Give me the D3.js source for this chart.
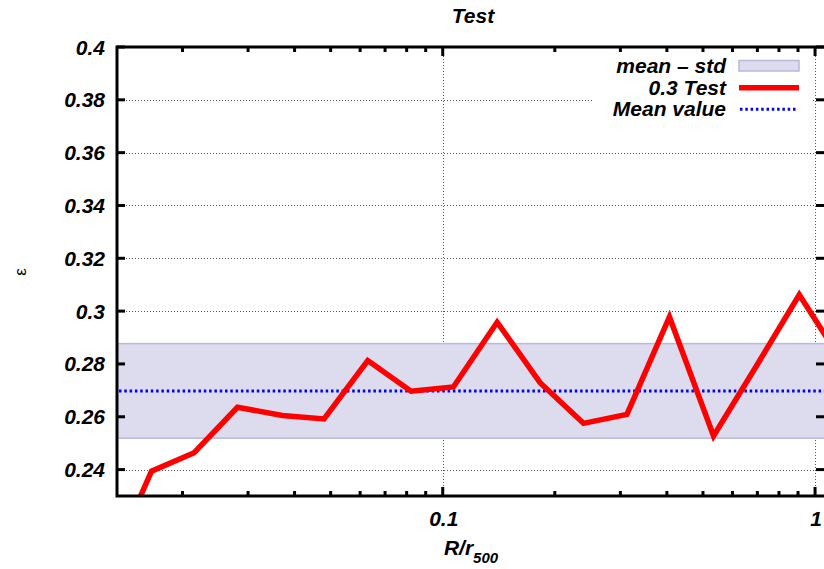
<!DOCTYPE html>
<html>
<head>
<meta charset="utf-8">
<script src="https://cdn.jsdelivr.net/npm/d3@7"></script>
<style>
  html, body { margin: 0; padding: 0; background: #fff; }
  svg { display: block; }
  text { font-family: "Liberation Sans", Arial, Helvetica, sans-serif; }
  .lbl { font-weight: bold; font-style: italic; font-size: 21px; fill: #000; }
</style>
</head>
<body>
<svg id="chart" width="824" height="569"></svg>
<script>
// Profile samples: radius in units of r500 and the measured epsilon
const radius = [0.01264, 0.01652, 0.0215, 0.0281, 0.0371, 0.048, 0.0629, 0.0822, 0.1068,
                0.140, 0.1826, 0.2388, 0.3124, 0.4064, 0.5337, 0.697, 0.907, 1.18];
const epsilon = [0.2025, 0.2394, 0.2464, 0.2636, 0.2605, 0.2592, 0.2813, 0.2697, 0.2713,
                 0.2958, 0.2729, 0.2575, 0.2609, 0.2978, 0.2527, 0.2794, 0.3062, 0.281];
const meanValue = 0.2698;
const stdValue = 0.0179;

const yTicks = [0.24, 0.26, 0.28, 0.3, 0.32, 0.34, 0.36, 0.38, 0.4];
const xMajorTicks = [0.1, 1];
const xMinorTicks = [0.02, 0.03, 0.04, 0.05, 0.06, 0.07, 0.08, 0.09,
                     0.2, 0.3, 0.4, 0.5, 0.6, 0.7, 0.8, 0.9];
const legendLabels = ["mean – std", "0.3 Test", "Mean value"];

const svg = d3.select("#chart");
const L = 117, R = 826, T = 47, B = 496;

const x = d3.scaleLog().domain([0.01334, 1.070]).range([L, R]);
const y = d3.scaleLinear().domain([0.23, 0.4]).range([B, T]);

// clip region for the data
svg.append("defs").append("clipPath").attr("id", "plotClip")
  .append("rect").attr("x", L).attr("y", T).attr("width", R - L).attr("height", B - T);

// grid
const grid = svg.append("g").attr("stroke", "#555").attr("stroke-width", 1)
  .attr("stroke-dasharray", "1,2").attr("fill", "none");
grid.selectAll("line.gy").data(yTicks.filter(v => v < 0.4)).join("line")
  .attr("x1", L).attr("x2", R)
  .attr("y1", d => Math.round(y(d)) + 0.5).attr("y2", d => Math.round(y(d)) + 0.5);
grid.selectAll("line.gx").data(xMajorTicks).join("line")
  .attr("y1", T).attr("y2", B)
  .attr("x1", d => Math.round(x(d)) + 0.5).attr("x2", d => Math.round(x(d)) + 0.5);

// legend background (opaque key box)
svg.append("rect").attr("x", 594).attr("y", T + 2).attr("width", 218).attr("height", 72)
  .attr("fill", "#fff");

const plot = svg.append("g").attr("clip-path", "url(#plotClip)");

// mean ± std band
plot.append("rect")
  .attr("x", L).attr("width", R - L)
  .attr("y", y(meanValue + stdValue))
  .attr("height", y(meanValue - stdValue) - y(meanValue + stdValue))
  .attr("fill", "#dddcee").attr("stroke", "#b9b8dd").attr("stroke-width", 1.5);

// mean value line
plot.append("line")
  .attr("x1", L + 2).attr("x2", R)
  .attr("y1", y(meanValue)).attr("y2", y(meanValue))
  .attr("stroke", "#0000ff").attr("stroke-width", 3).attr("stroke-dasharray", "2.5,2.8");

// epsilon profile
plot.append("path")
  .datum(radius.map((r, i) => [r, epsilon[i]]))
  .attr("d", d3.line().x(d => x(d[0])).y(d => y(d[1])))
  .attr("fill", "none").attr("stroke", "#ff0000").attr("stroke-width", 5.5)
  .attr("stroke-linejoin", "miter");

// tick marks
const ticks = svg.append("g").attr("stroke", "#000");
ticks.selectAll("line.yl").data(yTicks).join("line")
  .attr("x1", L).attr("x2", L + 8).attr("y1", d => y(d)).attr("y2", d => y(d)).attr("stroke-width", 3);
ticks.selectAll("line.yr").data(yTicks).join("line")
  .attr("x1", R - 10).attr("x2", R).attr("y1", d => y(d)).attr("y2", d => y(d)).attr("stroke-width", 3);
[[B, -1], [T, 1]].forEach(([base, dir]) => {
  ticks.append("g").selectAll("line").data(xMajorTicks).join("line")
    .attr("x1", d => x(d)).attr("x2", d => x(d))
    .attr("y1", base).attr("y2", base + dir * 9).attr("stroke-width", 3);
  ticks.append("g").selectAll("line").data(xMinorTicks).join("line")
    .attr("x1", d => x(d)).attr("x2", d => x(d))
    .attr("y1", base).attr("y2", base + dir * 5).attr("stroke-width", 3);
});

// frame
svg.append("rect").attr("x", L).attr("y", T).attr("width", R - L).attr("height", B - T)
  .attr("fill", "none").attr("stroke", "#000").attr("stroke-width", 3);

// tick labels
svg.append("g").selectAll("text").data(yTicks).join("text")
  .attr("class", "lbl").attr("text-anchor", "end")
  .attr("x", 105).attr("y", d => y(d) + 7.5)
  .text(d => d3.format("~g")(d));
svg.append("g").selectAll("text").data(xMajorTicks).join("text")
  .attr("class", "lbl").attr("text-anchor", "middle")
  .attr("x", d => x(d) + 1).attr("y", 526)
  .text(d => d3.format("~g")(d));

// title and axis labels
svg.append("text").attr("class", "lbl").attr("text-anchor", "middle")
  .attr("x", 473).attr("y", 23).text("Test");

const xl = svg.append("text").attr("class", "lbl").attr("text-anchor", "middle")
  .attr("x", 471).attr("y", 555);
xl.append("tspan").text("R/r");
xl.append("tspan").attr("dy", 8).style("font-size", "15px").text("500");

svg.append("text").attr("transform", "translate(26,272) rotate(-90)")
  .attr("text-anchor", "middle").style("font-size", "17px").text("ε");

// legend
const lg = svg.append("g");
const rowY = [72.5, 94.5, 116];
lg.selectAll("text").data(legendLabels).join("text")
  .attr("class", "lbl").attr("text-anchor", "end")
  .attr("x", 726).attr("y", (d, i) => rowY[i]).text(d => d);
lg.append("rect").attr("x", 739).attr("y", 60.5).attr("width", 60).attr("height", 10.5)
  .attr("fill", "#dddcee").attr("stroke", "#b9b8dd").attr("stroke-width", 1.5);
lg.append("line").attr("x1", 739).attr("x2", 799).attr("y1", 87.7).attr("y2", 87.7)
  .attr("stroke", "#ff0000").attr("stroke-width", 5.5);
lg.append("line").attr("x1", 740).attr("x2", 797).attr("y1", 109.3).attr("y2", 109.3)
  .attr("stroke", "#0000ff").attr("stroke-width", 3).attr("stroke-dasharray", "2.5,2.8");
</script>
</body>
</html>
